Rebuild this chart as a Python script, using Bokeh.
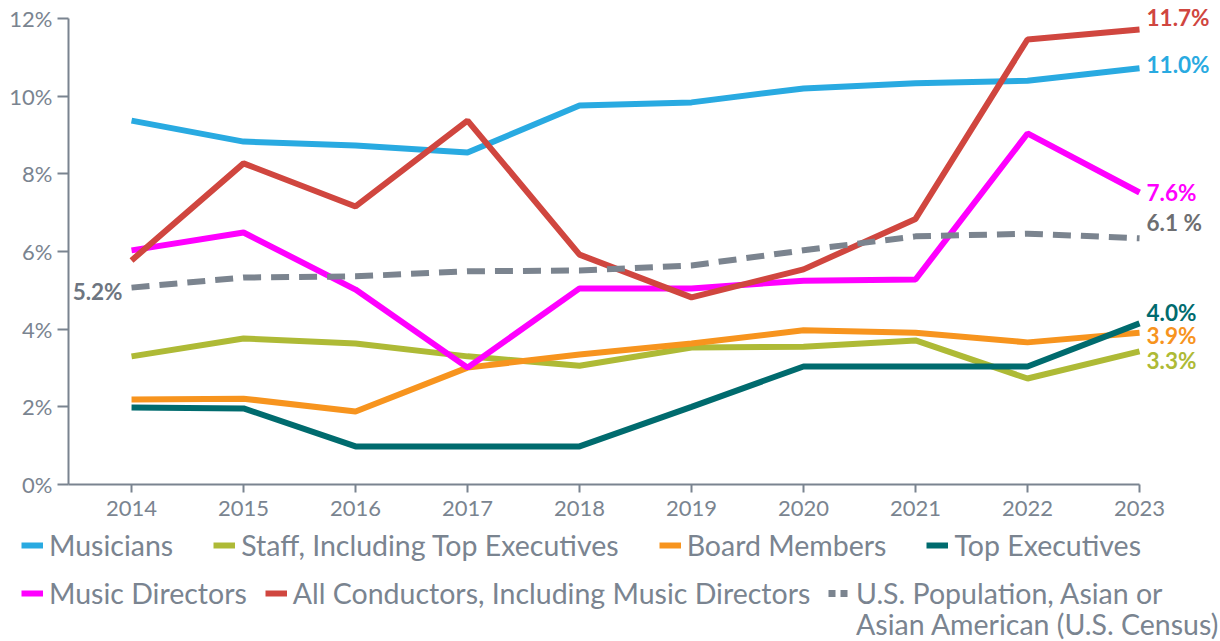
from bokeh.plotting import figure
from bokeh.models import Range1d, FixedTicker, Legend, LegendItem, CustomJSTickFormatter
from bokeh.core.properties import value
from bokeh.embed import file_html
from bokeh.resources import INLINE

years = [2014, 2015, 2016, 2017, 2018, 2019, 2020, 2021, 2022, 2023]
musicians = [9.37, 8.83, 8.73, 8.55, 9.76, 9.84, 10.2, 10.33, 10.4, 10.72]
staff = [3.30, 3.76, 3.63, 3.30, 3.06, 3.53, 3.55, 3.71, 2.73, 3.43]
board = [2.19, 2.21, 1.88, 3.01, 3.35, 3.63, 3.97, 3.91, 3.66, 3.91]
top_exec = [1.98, 1.96, 0.98, 0.98, 0.98, 2.00, 3.04, 3.04, 3.04, 4.15]
music_dir = [6.03, 6.49, 5.02, 3.01, 5.05, 5.05, 5.25, 5.28, 9.04, 7.52]
conductors = [5.77, 8.27, 7.16, 9.37, 5.92, 4.82, 5.54, 6.84, 11.46, 11.72]
us_pop = [5.07, 5.33, 5.36, 5.49, 5.51, 5.64, 6.03, 6.39, 6.46, 6.34]

end_labels = ["11.0%", "3.3%", "3.9%", "4.0%", "7.6%", "11.7%", "6.1 %"]
start_label = "5.2%"
y_ticks = [0, 2, 4, 6, 8, 10, 12]

names = ["Musicians", "Staff, Including Top Executives", "Board Members", "Top Executives",
         "Music Directors", "All Conductors, Including Music Directors",
         "U.S. Population, Asian or\nAsian American (U.S. Census)"]
series = [musicians, staff, board, top_exec, music_dir, conductors, us_pop]

# styles / layout
colors = ["#29AAE1", "#AEBA36", "#F7941E", "#006B6E", "#FF00FF", "#D0463F", "#7B848F"]
label_colors = ["#29AAE1", "#AEBA36", "#F7941E", "#006B6E", "#FF00FF", "#D0463F", "#6D6E71"]
label_dy = [4, -9, -3, 11, 0, 12, 16]  # screen px nudges (up positive)
FONT = "Lato"
GREY = "#7A8490"
DASH = "18 10"
LEGEND_DASH = "7 5"
X_START, X_END = 2012.830, 2023.723   # view window (frame spans whole canvas)
Y_START, Y_END = -4.043, 12.464
AXIS_X0 = 2013.437                     # where the y axis stands

p = figure(width=1220, height=641, output_backend="svg", toolbar_location=None,
           x_range=Range1d(X_START, X_END), y_range=Range1d(Y_START, Y_END),
           min_border_left=0, min_border_right=0, min_border_top=0, min_border_bottom=0)
p.outline_line_color = None
p.grid.visible = False

# axes drawn at fixed locations inside the frame
p.xaxis.fixed_location = 0
p.xaxis.bounds = (AXIS_X0, years[-1])
p.xaxis.ticker = FixedTicker(ticks=years)
p.xaxis.major_tick_out = 8
p.xaxis.major_tick_in = 0
p.xaxis.minor_tick_line_color = None
p.xaxis.major_label_standoff = 8
p.yaxis.fixed_location = AXIS_X0
p.yaxis.bounds = (0, 12)
p.yaxis.ticker = FixedTicker(ticks=y_ticks)
p.yaxis.formatter = CustomJSTickFormatter(code="return tick + '%';")
p.yaxis.major_tick_out = 11
p.yaxis.major_tick_in = 0
p.yaxis.minor_tick_line_color = None
p.yaxis.major_label_standoff = 5
for ax in (p.xaxis[0], p.yaxis[0]):
    ax.axis_line_color = GREY
    ax.axis_line_width = 2
    ax.major_tick_line_color = GREY
    ax.major_tick_line_width = 2
    ax.major_label_text_color = GREY
    ax.major_label_text_font = FONT
    ax.major_label_text_font_size = "22px"

renderers = []
for i, ys in enumerate(series):
    renderers.append(p.line(years, ys, line_color=colors[i], line_width=6,
                            line_dash=DASH if i == 6 else "solid"))
# legend stand-ins: finer dash swatch for the census line, and a blank one for its 2nd line
nan = float("nan")
pop_swatch = p.line(x=[nan], y=[nan], line_color=colors[6], line_width=7, line_dash=LEGEND_DASH)
blank = p.line(x=[], y=[], line_alpha=0)

# end labels
for i, ys in enumerate(series):
    p.text(x=[years[-1]], y=[ys[-1]], text=[end_labels[i]], text_color=label_colors[i],
           text_font=value(FONT), text_font_size="22.5px", text_font_style="bold",
           text_align="left", text_baseline="middle", x_offset=7, y_offset=-label_dy[i])

p.text(x=[years[0]], y=[us_pop[0]], text=[start_label], text_color="#6D7580",
       text_font=value(FONT), text_font_size="22.5px", text_font_style="bold",
       text_align="right", text_baseline="middle", x_offset=-9, y_offset=4)

def make_legend(items, loc, spacing):
    return Legend(items=items, orientation="horizontal", location=loc, spacing=spacing,
                  padding=0, margin=0, border_line_color=None, background_fill_alpha=0,
                  glyph_width=22, glyph_height=28, label_height=28, label_standoff=6,
                  label_text_font=FONT, label_text_font_size="28.5px", label_text_color=GREY)

def items_for(idx):
    return [LegendItem(label=names[i], renderers=[renderers[i]]) for i in idx]

pop_first, pop_second = names[6].split("\n")
p.add_layout(make_legend(items_for([0, 1, 2, 3]), (21, 79), 40))
p.add_layout(make_legend(items_for([4, 5]), (21, 31), 18))
p.add_layout(make_legend([LegendItem(label=pop_first, renderers=[pop_swatch])], (828, 31), 0))
p.add_layout(make_legend([LegendItem(label=pop_second, renderers=[blank])], (828, 0), 0))

open("out.html", "w").write(file_html(p, INLINE))
